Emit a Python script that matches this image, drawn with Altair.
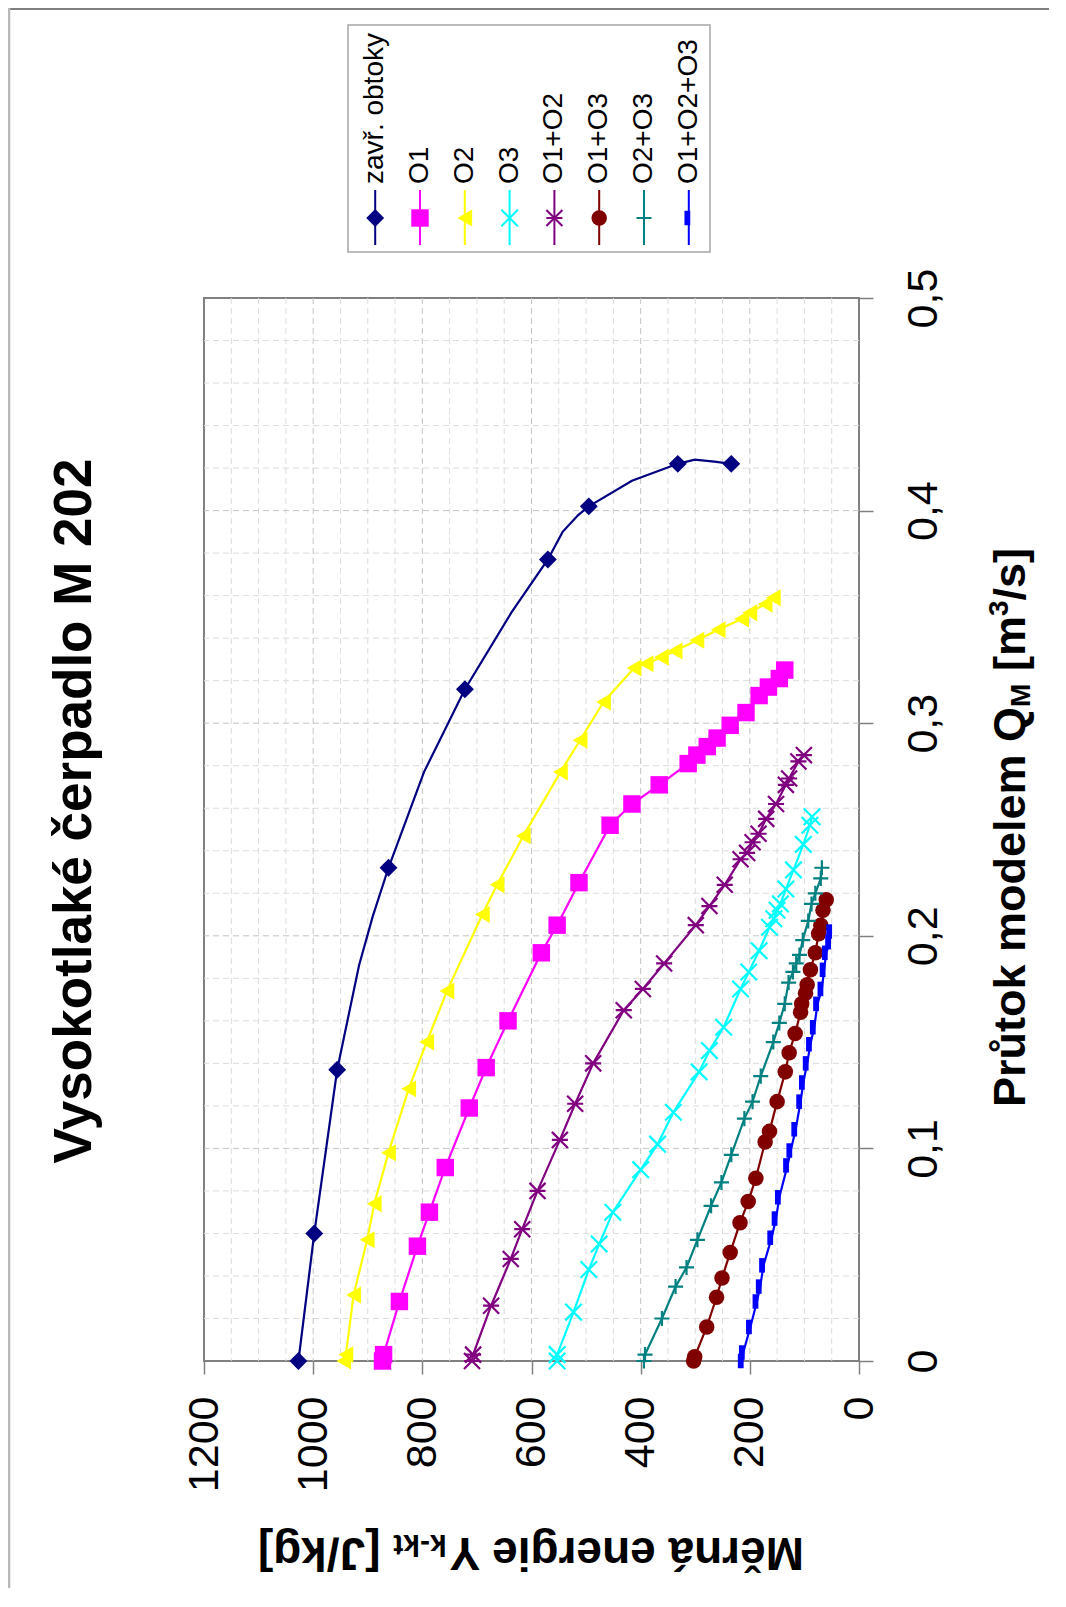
import altair as alt
import pandas as pd

# ---------------- texts ----------------
chart_title = "Vysokotlaké čerpadlo M 202"
q_title_parts = ["Průtok modelem Q", "M", "[m", "3", "/s]"]
e_title_parts = ["Měrná energie Y", "k-kt", "[J/kg]"]

# ---------------- series ----------------
series_names = ["zavř. obtoky", "O1", "O2", "O3", "O1+O2", "O1+O3", "O2+O3", "O1+O2+O3"]
series_colors = ["#000080", "#FF00FF", "#FFFF00", "#00FFFF", "#800080", "#800000", "#008080", "#0000FF"]
series_shapes = ["diamond", "square", "triangle-left",
                 "M-1,-1L1,1M-1,1L1,-1",
                 "M-1,-1L1,1M-1,1L1,-1M-1,0L1,0",
                 "circle",
                 "M-1,0L1,0M0,-1L0,1",
                 "M-0.6,-1L0.2,-1L0.2,1L-0.6,1Z"]
series_sizes = [320, 210, 380, 200, 300, 220, 260, 110]
series_filled = [True, True, True, False, False, True, False, True]

# Y (J/kg) and Q (m3/s)
zav_E = [1027, 998, 956, 862, 722, 570, 495, 332, 234]
zav_Q = [0.000, 0.060, 0.137, 0.232, 0.316, 0.377, 0.402, 0.422, 0.422]
zav_line_E = [1027, 998, 956, 916, 891, 862, 797, 722, 637, 570, 543, 514, 495, 416, 332, 301, 265, 234]
zav_line_Q = [0.000, 0.060, 0.137, 0.186, 0.209, 0.232, 0.277, 0.316, 0.352, 0.377, 0.390, 0.398, 0.402,
              0.414, 0.422, 0.424, 0.423, 0.422]

o1_E = [873, 871, 842, 809, 787, 758, 714, 683, 643, 582, 553, 513, 456, 416, 366, 313, 297, 278, 260,
        236, 207, 183, 166, 146, 136]
o1_Q = [0.000, 0.003, 0.028, 0.054, 0.070, 0.091, 0.119, 0.138, 0.160, 0.192, 0.205, 0.225, 0.252, 0.262,
        0.271, 0.281, 0.285, 0.289, 0.293, 0.299, 0.305, 0.313, 0.317, 0.321, 0.325]

o2_E = [944, 940, 926, 901, 888, 862, 825, 792, 755, 690, 663, 615, 547, 511, 468, 412, 390, 362, 337,
        297, 258, 215, 200, 172, 157]
o2_Q = [0.000, 0.003, 0.031, 0.057, 0.074, 0.098, 0.128, 0.150, 0.174, 0.210, 0.224, 0.247, 0.277, 0.292,
        0.310, 0.326, 0.328, 0.331, 0.334, 0.339, 0.344, 0.349, 0.352, 0.356, 0.359]

o3_E = [553, 553, 523, 495, 476, 451, 400, 369, 340, 293, 274, 248, 217, 202, 183, 164, 156, 150, 144,
        134, 120, 102, 90, 86]
o3_Q = [0.000, 0.003, 0.023, 0.043, 0.055, 0.070, 0.090, 0.102, 0.117, 0.136, 0.146, 0.157, 0.175, 0.183,
        0.193, 0.204, 0.208, 0.212, 0.215, 0.222, 0.231, 0.243, 0.252, 0.256]

o12_E = [709, 707, 674, 638, 617, 589, 548, 520, 487, 431, 396, 357, 299, 274, 246, 217, 205, 195, 184,
         170, 152, 134, 128, 111, 101]
o12_Q = [0.000, 0.003, 0.026, 0.048, 0.062, 0.080, 0.104, 0.121, 0.140, 0.165, 0.175, 0.187, 0.205, 0.214,
         0.224, 0.236, 0.239, 0.244, 0.248, 0.255, 0.262, 0.271, 0.274, 0.282, 0.285]

o13_E = [303, 301, 279, 261, 251, 236, 218, 203, 189, 172, 164, 150, 135, 128, 117, 107, 105, 98, 95, 89,
         80, 74, 70, 66, 60]
o13_Q = [0.000, 0.002, 0.016, 0.030, 0.039, 0.051, 0.065, 0.075, 0.086, 0.103, 0.108, 0.122, 0.136, 0.145,
         0.154, 0.164, 0.168, 0.173, 0.177, 0.184, 0.192, 0.201, 0.205, 0.212, 0.217]

o23_E = [394, 392, 361, 336, 316, 296, 271, 252, 234, 210, 195, 180, 157, 146, 136, 129, 121, 115, 109,
         103, 93, 87, 80, 70, 68]
o23_Q = [0.000, 0.003, 0.020, 0.035, 0.044, 0.057, 0.073, 0.084, 0.097, 0.114, 0.122, 0.134, 0.150, 0.159,
         0.168, 0.178, 0.183, 0.187, 0.191, 0.198, 0.207, 0.215, 0.220, 0.227, 0.232]

o123_E = [214, 212, 199, 187, 181, 175, 160, 152, 146, 131, 125, 116, 107, 102, 95, 89, 82, 76, 68, 64,
          60, 54, 52]
o123_Q = [0.000, 0.004, 0.016, 0.028, 0.035, 0.045, 0.058, 0.067, 0.077, 0.092, 0.099, 0.109, 0.122, 0.131,
          0.140, 0.149, 0.157, 0.168, 0.175, 0.184, 0.192, 0.197, 0.202]

energy_ticks = [0, 200, 400, 600, 800, 1000, 1200]
q_ticks = [0, 0.1, 0.2, 0.3, 0.4, 0.5]
energy_minor = [v for v in range(50, 1200, 50) if v % 200 != 0]
energy_major = [200, 400, 600, 800, 1000]
q_minor = [round(0.02 * i, 2) for i in range(1, 25) if i % 5 != 0]
q_major = [0.1, 0.2, 0.3, 0.4]

marker_sets = [(zav_E, zav_Q), (o1_E, o1_Q), (o2_E, o2_Q), (o3_E, o3_Q),
               (o12_E, o12_Q), (o13_E, o13_Q), (o23_E, o23_Q), (o123_E, o123_Q)]
line_sets = [(zav_line_E, zav_line_Q)] + marker_sets[1:]

def rows(sets):
    out = []
    for name, (es, qs) in zip(series_names, sets):
        for i, (e, q) in enumerate(zip(es, qs)):
            out.append({"series": name, "E": e, "Q": q, "idx": i})
    return pd.DataFrame(out)

line_df = rows(line_sets)
mark_df = rows(marker_sets)
filled_names = [n for n, f in zip(series_names, series_filled) if f]
mark_filled = mark_df[mark_df.series.isin(filled_names)]
mark_open = mark_df[~mark_df.series.isin(filled_names)]

FONT = "Liberation Sans"
W, H = 655, 1063

xscale = alt.Scale(domain=[0, 1200], reverse=True, nice=False, zero=False)
yscale = alt.Scale(domain=[0, 0.5], nice=False, zero=False)
cscale = alt.Scale(domain=series_names, range=series_colors)
sscale = alt.Scale(domain=series_names, range=series_shapes)
zscale = alt.Scale(domain=series_names, range=series_sizes)

x_axis = alt.Axis(values=energy_ticks, orient="bottom", labelAngle=270, labelAlign="right",
                  labelBaseline="middle", labelFontSize=43, labelFont=FONT, labelColor="black",
                  labelPadding=22, tickSize=13, tickColor="#808080", tickWidth=1.5, domain=False,
                  grid=False, title=None, format="d", labelOverlap=False, labelFlush=False)
y_axis = alt.Axis(values=q_ticks, orient="right", labelAngle=270, labelAlign="center",
                  labelBaseline="top", labelFontSize=43, labelFont=FONT, labelColor="black",
                  labelPadding=29, tickSize=14, tickColor="#808080", tickWidth=1.5, domain=False,
                  grid=False, title=None, labelOverlap=False, labelFlush=False,
                  labelExpr="datum.value == 0 ? '0' : replace(format(datum.value, '.1f'), '.', ',')")

X = alt.X("E:Q", scale=xscale, axis=x_axis)
Y = alt.Y("Q:Q", scale=yscale, axis=y_axis)

def vgrid(vals, color):
    return alt.Chart(pd.DataFrame({"E": vals})).mark_rule(
        color=color, strokeDash=[6, 4], strokeWidth=1).encode(x=X)

def hgrid(vals, color):
    return alt.Chart(pd.DataFrame({"Q": vals})).mark_rule(
        color=color, strokeDash=[6, 4], strokeWidth=1).encode(y=Y)

lines = alt.Chart(line_df).mark_line(strokeWidth=2.2).encode(
    x=X, y=Y,
    color=alt.Color("series:N", scale=cscale, legend=None),
    detail="series:N",
    order="idx:Q")

pts_filled = alt.Chart(mark_filled).mark_point(filled=True, opacity=1).encode(
    x=X, y=Y,
    color=alt.Color("series:N", scale=cscale, legend=None),
    shape=alt.Shape("series:N", scale=sscale, legend=None),
    size=alt.Size("series:N", scale=zscale, legend=None))

pts_open = alt.Chart(mark_open).mark_point(filled=False, strokeWidth=2.2, opacity=1).encode(
    x=X, y=Y,
    color=alt.Color("series:N", scale=cscale, legend=None),
    shape=alt.Shape("series:N", scale=sscale, legend=None),
    size=alt.Size("series:N", scale=zscale, legend=None))

one = pd.DataFrame({"k": [0]})

def txt(s, x, y, size, angle, bold=True, align="left", baseline="alphabetic"):
    return alt.Chart(one).mark_text(text=s, angle=angle, align=align, baseline=baseline,
                                    fontSize=size, font=FONT, color="black",
                                    fontWeight="bold" if bold else "normal").encode(
        x=alt.value(x), y=alt.value(y))

# Q-axis title (reads bottom to top), with subscript and superscript
QF, QS = 45, 28
q0 = 809
q2 = q0 - 8.891 * QF
q3 = q2 - 0.833 * QS - 0.278 * QF
q4 = q3 - 1.222 * QF
q5 = q4 - 0.556 * QS
q_title = [
    txt(q_title_parts[0], 821, q0, QF, 270),
    txt(q_title_parts[1], 826, q2, QS, 270),
    txt(q_title_parts[2], 821, q3, QF, 270),
    txt(q_title_parts[3], 804, q4, QS, 270),
    txt(q_title_parts[4], 821, q5, QF, 270),
]
# energy-axis title (upside down)
EF, ES = 46, 30
e0 = 600
e2 = e0 - 7.725 * EF - 2
e3 = e2 - 1.778 * ES - 0.278 * EF
e_title = [
    txt(e_title_parts[0], e0, 1240, EF, 180),
    txt(e_title_parts[1], e2, 1237, ES, 180),
    txt(e_title_parts[2], e3, 1240, EF, 180),
]
main_title = txt(chart_title, -113, 513, 53, 270, align="center")

# page frame lines
frame_top = alt.Chart(one).mark_rule(color="#808080", strokeWidth=2).encode(
    x=alt.value(-196), x2=alt.value(845), y=alt.value(-289))
frame_left = alt.Chart(one).mark_rule(color="#b8b8b8", strokeWidth=2.5).encode(
    x=alt.value(-195), y=alt.value(-290), y2=alt.value(1290))

main = alt.layer(
    vgrid(energy_minor, "#dcdcdc"), hgrid(q_minor, "#dcdcdc"),
    vgrid(energy_major, "#c4c4c4"), hgrid(q_major, "#c4c4c4"),
    lines, pts_filled, pts_open,
    *q_title, *e_title, main_title, frame_top, frame_left)

# ---------------- hand-built legend ----------------
leg_df = pd.DataFrame({"series": series_names})
leg_filled = leg_df[leg_df.series.isin(filled_names)]
leg_open = leg_df[~leg_df.series.isin(filled_names)]
lx = alt.X("series:N", scale=alt.Scale(type="point", domain=series_names, range=[171.2, 484.8],
                                       padding=0), axis=None)

leg_box = alt.Chart(one).mark_rect(fill="white", stroke="#a6a6a6", strokeWidth=1.5).encode(
    x=alt.value(144), x2=alt.value(506), y=alt.value(-273), y2=alt.value(-46))
leg_rules = alt.Chart(leg_df).mark_rule(strokeWidth=2).encode(
    x=lx, y=alt.value(-108), y2=alt.value(-53),
    color=alt.Color("series:N", scale=cscale, legend=None))
leg_pf = alt.Chart(leg_filled).mark_point(filled=True, opacity=1).encode(
    x=lx, y=alt.value(-80),
    color=alt.Color("series:N", scale=cscale, legend=None),
    shape=alt.Shape("series:N", scale=sscale, legend=None),
    size=alt.Size("series:N", scale=zscale, legend=None))
leg_po = alt.Chart(leg_open).mark_point(filled=False, strokeWidth=2, opacity=1).encode(
    x=lx, y=alt.value(-80),
    color=alt.Color("series:N", scale=cscale, legend=None),
    shape=alt.Shape("series:N", scale=sscale, legend=None),
    size=alt.Size("series:N", scale=zscale, legend=None))
leg_text = alt.Chart(leg_df).mark_text(angle=270, align="left", baseline="middle", fontSize=28,
                                       font=FONT, color="black").encode(
    x=lx, y=alt.value(-114), text="series:N")

legend = alt.layer(leg_box, leg_rules, leg_pf, leg_po, leg_text)

chart = alt.layer(main, legend).resolve_scale(x="independent").properties(
    width=W, height=H,
    autosize=alt.AutoSizeParams(type="none"),
    padding={"left": 196, "top": 290, "right": 190, "bottom": 230},
).configure(font=FONT, background="white").configure_view(stroke="#808080", strokeWidth=2)

chart.save("out.html", embed_options={"renderer": "svg", "actions": False})
